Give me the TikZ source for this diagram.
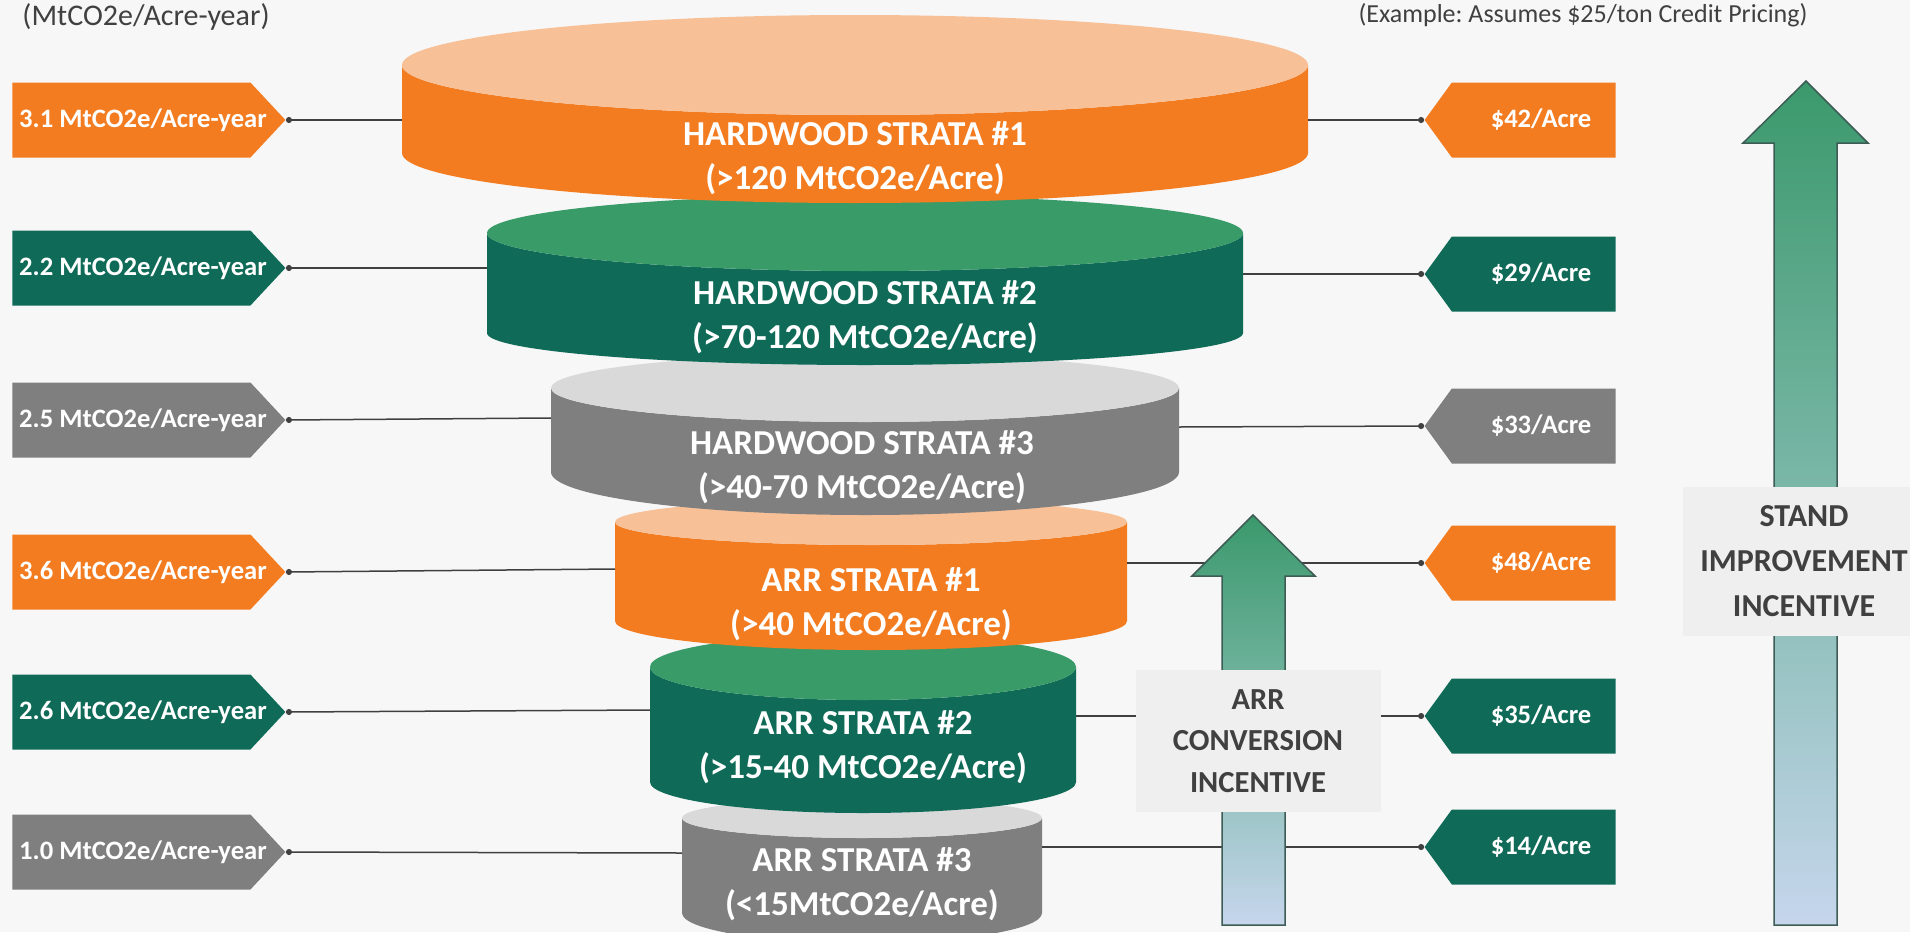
\documentclass[tikz,border=0pt]{standalone}
\usepackage{fontspec}
\setmainfont{Carlito}
\usetikzlibrary{shapes.symbols,arrows.meta}

\definecolor{bgc}{HTML}{F7F7F7}
\definecolor{orangeside}{HTML}{F37C21}
\definecolor{orangetop}{HTML}{F8C097}
\definecolor{greenside}{HTML}{0F6A57}
\definecolor{greentop}{HTML}{399B68}
\definecolor{grayside}{HTML}{7F7F7F}
\definecolor{graytop}{HTML}{D9D9D9}
\definecolor{inkgray}{HTML}{404040}
\definecolor{boxgray}{HTML}{EFEFEF}
\definecolor{arrowgreen}{HTML}{3B996C}
\definecolor{arrowteal}{HTML}{7DB8AA}
\definecolor{arrowblue}{HTML}{C6D6EC}
\definecolor{arrowedge}{HTML}{3D5C55}

\frenchspacing
\begin{document}
\begin{tikzpicture}[
		x=0.5pt, y=-0.5pt,
		ltag/.style={signal, signal to=east, signal pointer angle=94, fill=#1, anchor=west,
				minimum width=136.5pt, minimum height=37.5pt, inner sep=0pt},
		rtag/.style={signal, signal to=west, signal pointer angle=108, fill=#1, anchor=east,
				minimum width=95.5pt, minimum height=37.5pt, inner sep=0pt},
		tagtext/.style={text=white, font=\bfseries\fontsize{13.3}{15}\selectfont},
		strata/.style={text=white, align=center, font=\bfseries\fontsize{17.5}{22}\selectfont},
		link/.style={draw=inkgray, line width=0.75pt, {Circle[length=3pt]}-},
		incentive/.style={fill=boxgray, align=center, text=inkgray, inner sep=0pt},
		uparrow/.style={draw=arrowedge, line width=0.75pt, top color=arrowgreen,
				bottom color=arrowblue, middle color=arrowteal}
	]
	\useasboundingbox (0,0) rectangle (1910,932);
	\fill[bgc] (0,0) rectangle (1910,932);

	\node[font=\fontsize{15}{18}\selectfont, text=inkgray, anchor=base] (unitnote) at (146,25) {(MtCO2e/Acre-year)};
	\node[font=\fontsize{13}{16}\selectfont, text=inkgray, anchor=base] (pricenote) at (1583,22) {(Example: Assumes \$25/ton Credit Pricing)};

	\foreach \cx/\rx/\ty/\tr/\by/\br/\tc/\sc in {
			862/180/818/20/913/30/graytop/grayside,
			863/213/667/33/782/31/greentop/greenside,
			871/256/522/23/621/29/orangetop/orangeside,
			865/314/388/34/472/43/graytop/grayside,
			865/378/233/38/333/32/greentop/greenside,
			855/453/65/50/153/50/orangetop/orangeside}{
			\fill[\sc] (\cx-\rx,\ty) -- (\cx-\rx,\by)
			arc[start angle=180, end angle=0, x radius=\rx, y radius=\br]
			-- (\cx+\rx,\ty)
			arc[start angle=0, end angle=180, x radius=\rx, y radius=\tr] -- cycle;
			\fill[\tc] (\cx,\ty) ellipse[x radius=\rx, y radius=\tr];
		}

	\node[strata] (h1) at (855,158) {HARDWOOD STRATA \#1\\(>120 MtCO2e/Acre)};
	\node[strata] (h2) at (865,317) {HARDWOOD STRATA \#2\\(>70-120 MtCO2e/Acre)};
	\node[strata] (h3) at (862,467) {HARDWOOD STRATA \#3\\(>40-70 MtCO2e/Acre)};
	\node[strata] (a1) at (871,604) {ARR STRATA \#1\\(>40 MtCO2e/Acre)};
	\node[strata] (a2) at (863,747) {ARR STRATA \#2\\(>15-40 MtCO2e/Acre)};
	\node[strata] (a3) at (862,884) {ARR STRATA \#3\\(<15MtCO2e/Acre)};

	\coordinate (h1w) at (402,120);
	\coordinate (h2w) at (487,268);
	\coordinate (h3w) at (551,418);
	\coordinate (a1w) at (615,569);
	\coordinate (a2w) at (650,710);
	\coordinate (a3w) at (682,853);
	\coordinate (h1e) at (1308,120);
	\coordinate (h2e) at (1243,274);
	\coordinate (h3e) at (1179,427);
	\coordinate (a1e) at (1127,563);
	\coordinate (a2e) at (1076,716);
	\coordinate (a3e) at (1042,847);

	\node[ltag=orangeside] (lt1) at (12,120) {};
	\node[ltag=greenside] (lt2) at (12,268) {};
	\node[ltag=grayside] (lt3) at (12,420) {};
	\node[ltag=orangeside] (lt4) at (12,572) {};
	\node[ltag=greenside] (lt5) at (12,712) {};
	\node[ltag=grayside] (lt6) at (12,852) {};
	\node[tagtext] (lv1) at (143,120) {3.1 MtCO2e/Acre-year};
	\node[tagtext] (lv2) at (143,268) {2.2 MtCO2e/Acre-year};
	\node[tagtext] (lv3) at (143,420) {2.5 MtCO2e/Acre-year};
	\node[tagtext] (lv4) at (143,572) {3.6 MtCO2e/Acre-year};
	\node[tagtext] (lv5) at (143,712) {2.6 MtCO2e/Acre-year};
	\node[tagtext] (lv6) at (143,852) {1.0 MtCO2e/Acre-year};

	\node[rtag=orangeside] (rt1) at (1616,120) {};
	\node[rtag=greenside] (rt2) at (1616,274) {};
	\node[rtag=grayside] (rt3) at (1616,426) {};
	\node[rtag=orangeside] (rt4) at (1616,563) {};
	\node[rtag=greenside] (rt5) at (1616,716) {};
	\node[rtag=greenside] (rt6) at (1616,847) {};
	\node[tagtext] (rv1) at (1541,120) {\$42/Acre};
	\node[tagtext] (rv2) at (1541,274) {\$29/Acre};
	\node[tagtext] (rv3) at (1541,426) {\$33/Acre};
	\node[tagtext] (rv4) at (1541,563) {\$48/Acre};
	\node[tagtext] (rv5) at (1541,716) {\$35/Acre};
	\node[tagtext] (rv6) at (1541,847) {\$14/Acre};

	\draw[link] (lt1.east) -- (h1w);
	\draw[link] (lt2.east) -- (h2w);
	\draw[link] (lt3.east) -- (h3w);
	\draw[link] (lt4.east) -- (a1w);
	\draw[link] (lt5.east) -- (a2w);
	\draw[link] (lt6.east) -- (a3w);
	\draw[link] (rt1.west) -- (h1e);
	\draw[link] (rt2.west) -- (h2e);
	\draw[link] (rt3.west) -- (h3e);
	\draw[link] (rt4.west) -- (a1e);
	\draw[link] (rt5.west) -- (a2e);
	\draw[link] (rt6.west) -- (a3e);

	\path[uparrow] (1222,925) -- (1222,576) -- (1192,576) -- (1253,515) -- (1315,576)
	-- (1285,576) -- (1285,925) -- cycle;
	\path[uparrow] (1774,925) -- (1774,143) -- (1743,143) -- (1806,81) -- (1868,143)
	-- (1837,143) -- (1837,925) -- cycle;

	\node[incentive, minimum width=122.5pt, minimum height=71pt,
		font=\bfseries\fontsize{15.3}{20.75}\selectfont] (arrbox) at (1258,741)
	{ARR\\CONVERSION\\INCENTIVE};
	\node[incentive, minimum width=121pt, minimum height=74.5pt,
		font=\bfseries\fontsize{16}{22.5}\selectfont] (standbox) at (1804,561)
	{STAND\\IMPROVEMENT\\INCENTIVE};
\end{tikzpicture}
\end{document}
